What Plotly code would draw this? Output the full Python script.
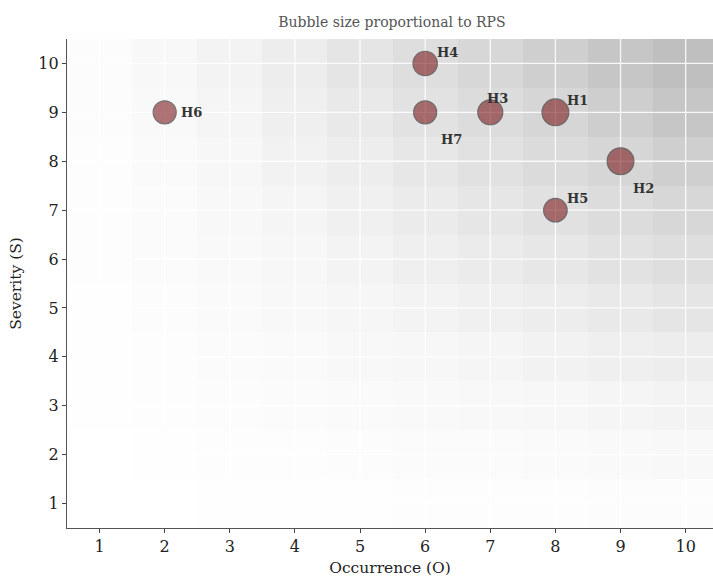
import numpy as np
import plotly.graph_objects as go

# ---- data ----
hazards = ["H1", "H2", "H3", "H4", "H5", "H6", "H7"]
occurrence = [8, 9, 7, 6, 8, 2, 6]
severity = [9, 8, 9, 10, 7, 9, 9]
rps = [216, 216, 189, 180, 168, 162, 162]
grid_o = list(range(1, 11))
grid_s = list(range(1, 11))
tick_vals = list(range(1, 11))

# label offsets (pixels) for readability
label_dx = [10, 10, -5, 10, 10, 14, 14]
label_dy = [-12, 27, -14, -11, -12, 0, 27]

# background risk matrix S*O
z = [[s * o for o in grid_o] for s in grid_s]

# matplotlib "Greys" blended with white at alpha 0.25
greys = [255, 240, 217, 189, 150, 115, 82, 37, 0]
alpha = 0.25
cs = []
for i, g in enumerate(greys):
    v = round(255 * (1 - alpha) + g * alpha)
    cs.append([i / (len(greys) - 1), f"rgb({v},{v},{v})"])

FONT = "DejaVu Serif, serif"

fig = go.Figure()
fig.add_trace(go.Heatmap(x=grid_o, y=grid_s, z=z, colorscale=cs, showscale=False,
                         hoverinfo="skip"))

# gridlines drawn over the heatmap but below the bubbles
for t in tick_vals:
    fig.add_trace(go.Scatter(x=[t, t], y=[0.5, 10.5], mode="lines",
                             line=dict(color="rgba(255,255,255,0.85)", width=1.3),
                             hoverinfo="skip", showlegend=False))
    fig.add_trace(go.Scatter(x=[0.5, 10.5], y=[t, t], mode="lines",
                             line=dict(color="rgba(255,255,255,0.85)", width=1.3),
                             hoverinfo="skip", showlegend=False))

sizes = [float(np.sqrt(8 + 3.59 * r)) - 1.2 for r in rps]
fig.add_trace(go.Scatter(
    x=occurrence, y=severity, mode="markers",
    marker=dict(size=sizes, color="rgba(120,20,24,0.84)",
                line=dict(color="#3a3a3a", width=1.2)),
    showlegend=False, hoverinfo="skip"))

for h, o, s, dx, dy in zip(hazards, occurrence, severity, label_dx, label_dy):
    fig.add_annotation(x=o, y=s, text=f"<b>{h}</b>", showarrow=False,
                       xanchor="left", yanchor="middle", xshift=dx, yshift=-dy,
                       font=dict(family=FONT, size=13, color="#333333"))

axis_common = dict(showgrid=False, zeroline=False, ticks="outside", ticklen=4,
                   tickwidth=1, tickcolor="#444444", showline=True,
                   linecolor="#555555", linewidth=1.2, automargin=False,
                   tickfont=dict(family=FONT, size=16, color="#222222"),
                   tickvals=tick_vals)

fig.update_xaxes(range=[0.5, 10.42], mirror=False,
                 title=dict(text="Occurrence (O)", standoff=9,
                            font=dict(family=FONT, size=15.5, color="#222222")),
                 **axis_common)
fig.update_yaxes(range=[0.5, 10.5], mirror=True,
                 title=dict(text="Severity (S)", standoff=12,
                            font=dict(family=FONT, size=15.5, color="#222222")),
                 **axis_common)

fig.update_layout(
    width=713, height=577,
    margin=dict(l=67, r=0, t=39, b=49, autoexpand=False),
    paper_bgcolor="white", plot_bgcolor="white",
    title=dict(text="Bubble size proportional to RPS", xref="paper", x=0.503,
               xanchor="center", y=0.962, yanchor="middle", automargin=False,
               font=dict(family=FONT, size=14, color="#555555")),
    showlegend=False,
)

fig.write_html("out.html", config={"displayModeBar": False},
               post_script="document.body.style.margin='0';document.body.style.padding='0';")
